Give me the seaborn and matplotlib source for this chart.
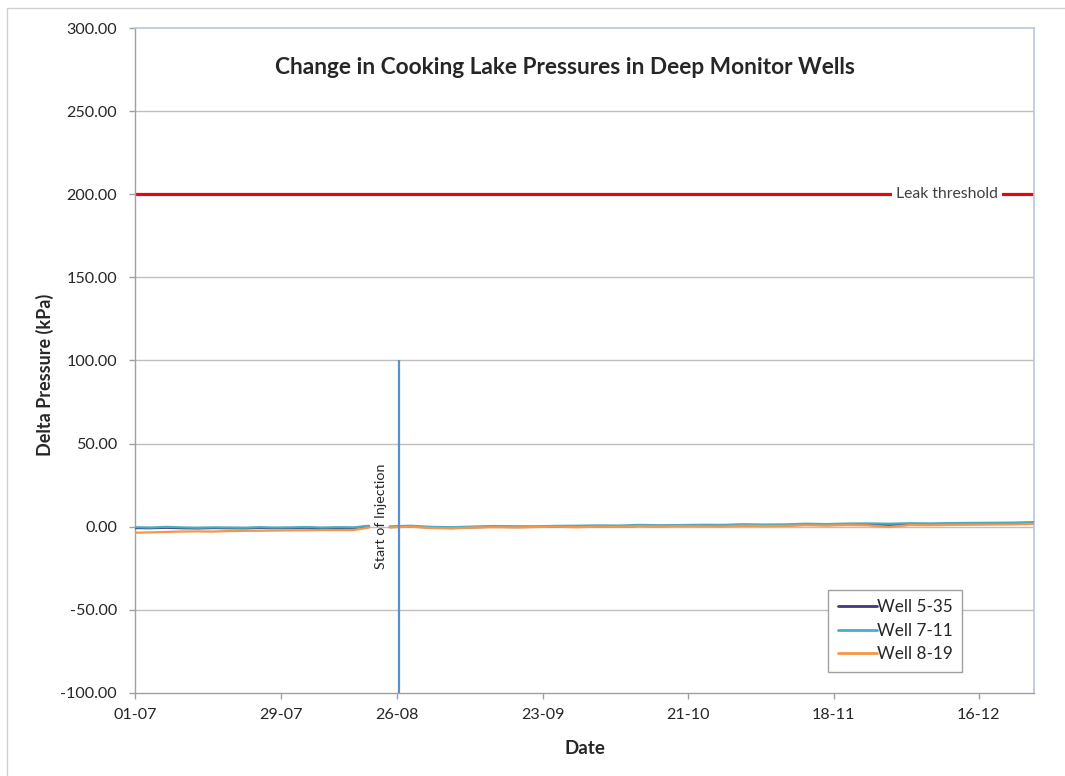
import numpy as np
import pandas as pd
import matplotlib
matplotlib.use("Agg")
import matplotlib.pyplot as plt
import seaborn as sns
from matplotlib.lines import Line2D

sns.set_theme(style="white")
plt.rcParams['font.family'] = ['Lato', 'DejaVu Sans']

# ---------------- data ----------------
tick_pos = [0, 28, 50.4, 78.5, 106.4, 134.4, 162.3]
tick_labels = ["01-07", "29-07", "26-08", "23-09", "21-10", "18-11", "16-12"]
x_max = 172.9

pre_x = np.arange(0, 46, 3)
post_x = np.arange(49, 174, 4)

well_535_pre = [-0.8, -0.9, -0.6, -0.9, -1.0, -0.8, -0.9, -1.0, -0.7, -0.9, -0.8, -0.6, -0.9, -0.7, -0.8, 0.3]
well_711_pre = [-0.3, -0.5, -0.1, -0.4, -0.6, -0.4, -0.5, -0.6, -0.3, -0.5, -0.4, -0.2, -0.5, -0.3, -0.4, 0.6]
well_819_pre = [-3.6, -3.4, -3.1, -2.9, -2.8, -2.9, -2.6, -2.5, -2.4, -2.3, -2.2, -2.1, -2.0, -2.0, -2.0, -0.5]

well_535_post = [-0.2, 0.2, -0.5, -0.8, -0.3, 0.0, -0.2, -0.1, 0.1, 0.0, 0.3, 0.2, 0.5, 0.4, 0.6, 0.5,
                 0.7, 0.9, 0.6, 0.8, 1.2, 1.0, 1.3, 1.4, 1.2, 1.5, 1.3, 1.6, 1.7, 1.8, 1.9, 2.2]
well_711_post = [0.2, 0.6, -0.1, -0.3, 0.1, 0.4, 0.3, 0.2, 0.5, 0.6, 0.8, 0.7, 1.1, 0.9, 1.0, 1.2,
                 1.1, 1.5, 1.3, 1.4, 1.8, 1.6, 1.9, 2.0, 1.8, 2.1, 2.0, 2.2, 2.3, 2.4, 2.5, 2.8]
well_819_post = [-0.4, 0.0, -0.8, -1.0, -0.5, -0.3, -0.4, -0.2, 0.0, -0.3, 0.0, -0.1, 0.3, 0.1, 0.3, 0.2,
                 0.1, 0.6, 0.4, 0.5, 0.9, 0.7, 1.0, 0.8, -0.2, 1.0, 0.9, 1.1, 1.2, 1.3, 1.4, 1.7]

wells = ["Well 5-35", "Well 7-11", "Well 8-19"]
colors = ["#3F3A7E", "#4BACC6", "#F79646"]
leak_threshold = 200.0
injection_x = 50.8
injection_top = 100.0
y_ticks = [-100, -50, 0, 50, 100, 150, 200, 250, 300]

rows = []
for name, pre, post in zip(wells,
                           [well_535_pre, well_711_pre, well_819_pre],
                           [well_535_post, well_711_post, well_819_post]):
    for xv, yv in zip(pre_x, pre):
        rows.append((name, "pre", xv, yv))
    for xv, yv in zip(post_x, post):
        rows.append((name, "post", xv, yv))
df = pd.DataFrame(rows, columns=["well", "segment", "x", "y"])

# ---------------- figure ----------------
fig = plt.figure(figsize=(10.65, 7.76), dpi=100)
ax = fig.add_axes([0.1268, 0.107, 0.8441, 0.8569])

for yv in y_ticks[1:-1]:
    ax.axhline(yv, color="#BFBFBF", lw=1.0, zorder=0)

sns.lineplot(data=df, x="x", y="y", hue="well", units="segment", estimator=None,
             palette=dict(zip(wells, colors)), lw=1.6, ax=ax, zorder=3)

ax.axhline(leak_threshold, color="#E3080C", lw=2.3, zorder=2)
ax.text(156.2, leak_threshold, "Leak threshold", ha="center", va="center", fontsize=11.3,
        color="#404040", bbox=dict(facecolor="white", edgecolor="none", pad=3), zorder=4)

ax.vlines(injection_x, -100, injection_top, color="#5B8FD0", lw=1.6, zorder=4)
ax.text(47.3, 6, "Start of Injection", rotation=90, ha="center", va="center",
        fontsize=10.3, color="#262626", zorder=5)

ax.set_xlim(0, x_max)
ax.set_ylim(-100, 300)
ax.set_yticks(y_ticks)
ax.set_yticklabels([f"{v:.2f}" for v in y_ticks])
ax.set_xticks(tick_pos)
ax.set_xticklabels(tick_labels)
ax.tick_params(axis="both", labelsize=11.6, colors="#A0A0A0",
               length=4, width=1, direction="out", left=True, bottom=True)
for t in ax.get_xticklabels() + ax.get_yticklabels():
    t.set_color("#262626")
ax.tick_params(axis="y", pad=9)
ax.tick_params(axis="x", pad=7)

for s in ["left", "bottom"]:
    ax.spines[s].set_color("#A0A0A0")
    ax.spines[s].set_linewidth(1)
for s in ["top", "right"]:
    ax.spines[s].set_color("#B9C7DD")
    ax.spines[s].set_linewidth(1.2)

ax.set_xlabel("Date", fontsize=13.5, fontweight="bold", color="#262626", labelpad=13)
ax.set_ylabel("Delta Pressure (kPa)", fontsize=13, fontweight="bold", color="#262626")
ax.yaxis.set_label_coords(-0.09, 0.478)

ax.text(0.478, 0.94, "Change in Cooking Lake Pressures in Deep Monitor Wells",
        transform=ax.transAxes, ha="center", va="center", fontsize=16.3,
        fontweight="bold", color="#262626")

leg = ax.legend(loc="lower left", bbox_to_anchor=(0.771, 0.032), fontsize=12.3,
                frameon=True, fancybox=False, edgecolor="#A0A0A0", framealpha=1,
                handlelength=2.3, handletextpad=0.0, borderpad=0.55, labelspacing=0.45,
                borderaxespad=0)
leg.get_frame().set_linewidth(1)
for h in leg.get_lines():
    h.set_linewidth(2)
for t in leg.get_texts():
    t.set_color("#262626")

# outer chart border (top and left visible)
fig.add_artist(Line2D([0.007, 1.0], [0.99, 0.99], transform=fig.transFigure, color="#D0D0D0", lw=1))
fig.add_artist(Line2D([0.007, 0.007], [0.0, 0.99], transform=fig.transFigure, color="#D0D0D0", lw=1))

fig.savefig("out.png", dpi=100)
